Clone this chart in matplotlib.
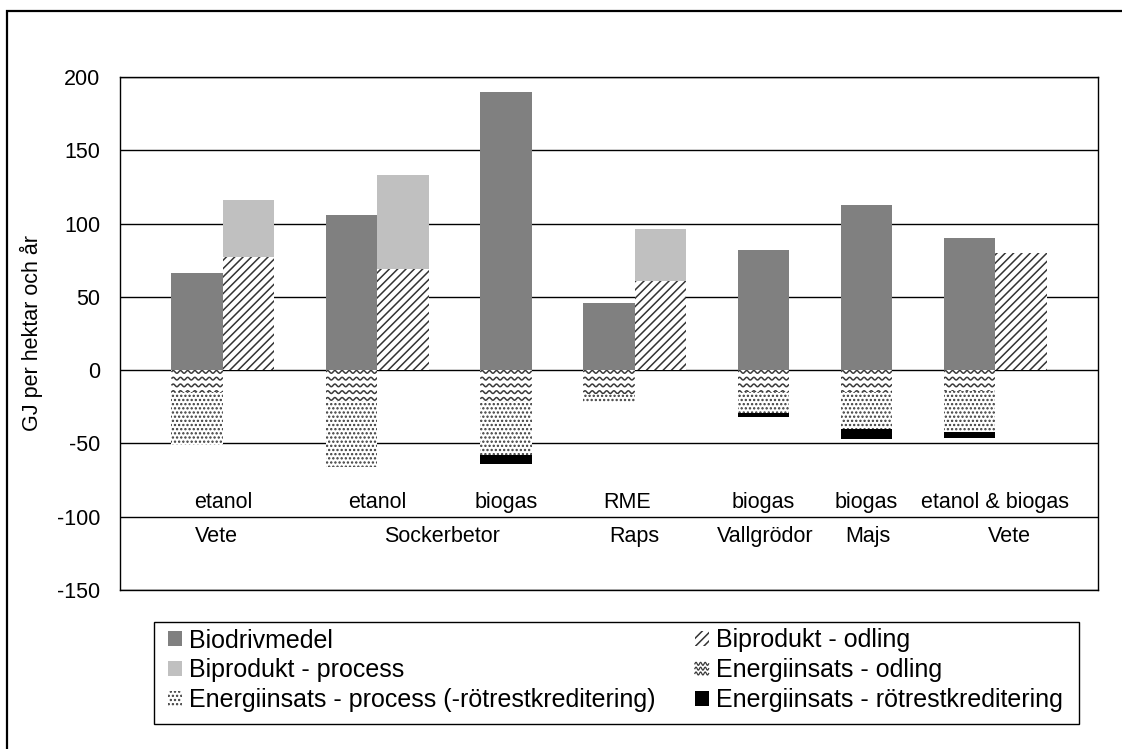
import numpy as np
import matplotlib
matplotlib.use("Agg")
import matplotlib.pyplot as plt
from matplotlib.patches import Rectangle
from matplotlib.collections import LineCollection
from matplotlib.lines import Line2D
from matplotlib.legend_handler import HandlerBase

plt.rcParams['font.family'] = ['Liberation Sans', 'DejaVu Sans']
plt.rcParams['hatch.linewidth'] = 1.1

# ---- data (GJ per hektar och år) ----
products = ["etanol", "etanol", "biogas", "RME", "biogas", "biogas", "etanol & biogas"]
crops = ["Vete", "Sockerbetor", "Raps", "Vallgrödor", "Majs", "Vete"]
biodrivmedel = [66, 106, 190, 46, 82, 113, 90]
biprodukt_odling = [77, 69, 0, 61, 0, 0, 80]
biprodukt_process = [39, 64, 0, 35, 0, 0, 0]
energi_odling = [-15, -21, -21, -16, -15, -15, -14]
energi_process = [-36, -45, -37, -6, -14, -25, -28]
energi_rotrest = [0, 0, -6, 0, -3, -7, -4]
yticks = [-150, -100, -50, 0, 50, 100, 150, 200]

labels = ["Biodrivmedel", "Biprodukt - process",
          "Energiinsats - process (-rötrestkreditering)",
          "Biprodukt - odling", "Energiinsats - odling",
          "Energiinsats - rötrestkreditering"]

# ---- layout: slot of each group's left bar; the right bar uses the next slot ----
left_slot = np.array([1, 4, 7, 9, 12, 14, 16])
n_slots = 19
product_x = [1.5, 4.5, 7.0, 9.35, 12.0, 14.0, 16.5]
crop_x = [1.37, 5.75, 9.5, 12.03, 14.03, 16.77]

W, H = 1122, 749
fig = plt.figure(figsize=(W / 100, H / 100), dpi=100)
ax = fig.add_axes([120 / W, 1 - 590 / H, (1098 - 120) / W, (590 - 77) / H])

DARK = "#808080"
LIGHT = "#c0c0c0"
FS = 15.5
LFS = 18

bio = np.array(biodrivmedel, float)
b_odl = np.array(biprodukt_odling, float)
b_proc = np.array(biprodukt_process, float)
e_odl = np.array(energi_odling, float)
e_proc = np.array(energi_process, float)
e_rot = np.array(energi_rotrest, float)

# left bars: fuel on top, energy inputs below zero
h_bio = ax.bar(left_slot, bio, width=1.0, color=DARK, linewidth=0, zorder=3)
h_eodl = ax.bar(left_slot, e_odl, width=1.0, color="white", linewidth=0, zorder=3)
h_eproc = ax.bar(left_slot, e_proc, bottom=e_odl, width=1.0, color="white",
                 edgecolor="#3a3a3a", linewidth=0, hatch="....", zorder=3)
h_rot = ax.bar(left_slot, e_rot, bottom=e_odl + e_proc, width=1.0, color="black",
               linewidth=0, zorder=3)
# right bars: by-products
h_bodl = ax.bar(left_slot + 1, b_odl, width=1.0, color="white", edgecolor="#333333",
                linewidth=0, hatch="////", zorder=3)
h_bproc = ax.bar(left_slot + 1, b_proc, bottom=b_odl, width=1.0, color=LIGHT,
                 linewidth=0, zorder=3)


def add_waves(ax, patches, period=0.14, amp=0.9, step=4.6):
    for p in patches:
        h = p.get_height()
        if h == 0:
            continue
        x0, w = p.get_x(), p.get_width()
        ytop = max(p.get_y(), p.get_y() + h)
        ybot = min(p.get_y(), p.get_y() + h)
        xs = np.linspace(x0, x0 + w, 160)
        segs = []
        yy = ytop - 1.2
        while yy > ybot - 2:
            segs.append(np.column_stack([xs, yy + amp * np.sin(2 * np.pi * (xs - x0) / period)]))
            yy -= step
        lc = LineCollection(segs, colors="#3a3a3a", linewidths=1.1, zorder=4)
        ax.add_collection(lc)
        lc.set_clip_path(p)


add_waves(ax, h_eodl.patches)

ax.set_xlim(-0.5, n_slots - 0.5)
ax.set_ylim(-150, 200)
ax.set_yticks(yticks)
ax.set_yticklabels([str(v) for v in yticks], fontsize=FS)
ax.tick_params(axis="y", length=0, pad=14.4)
ax.set_xticks([])
ax.grid(axis="y", color="black", linewidth=1.0, zorder=0)
for s in ax.spines.values():
    s.set_color("black")
    s.set_linewidth(1.0)

for x, t in zip(product_x, products):
    ax.text(x, -90, t, ha="center", va="center", fontsize=FS)
for x, t in zip(crop_x, crops):
    ax.text(x, -113.5, t, ha="center", va="center", fontsize=FS)

fig.text(31 / W, 1 - 333 / H, "GJ per hektar och år", rotation=90,
         ha="center", va="center", fontsize=FS)

# outer chart frame
fig.patches.append(Rectangle((7 / W, -0.05), 1.2, 1 - 11 / H + 0.05,
                             transform=fig.transFigure, fill=False,
                             edgecolor="black", linewidth=1.6))


class WaveHandler(HandlerBase):
    def create_artists(self, legend, orig_handle, xdescent, ydescent,
                       width, height, fontsize, trans):
        x0, y0 = -xdescent, -ydescent
        xs = np.linspace(x0, x0 + width, 40)
        arts = []
        for k in range(3):
            yy = y0 + height * (0.82 - 0.32 * k)
            arts.append(Line2D(xs, yy + height * 0.1 * np.sin(2 * np.pi * (xs - x0) / (width / 3)),
                               color="#3a3a3a", lw=0.9, transform=trans))
        return arts


# legend box frame
LX0, LX1, LY0, LY1 = 154, 1079, 622, 724
fig.patches.append(Rectangle((LX0 / W, 1 - LY1 / H), (LX1 - LX0) / W, (LY1 - LY0) / H,
                             transform=fig.transFigure, facecolor="white",
                             edgecolor="black", linewidth=1.0, zorder=5))

wave_proxy = Rectangle((0, 0), 1, 1, facecolor="white")
handles = [h_bio, h_bproc, h_eproc, h_bodl, wave_proxy, h_rot]
leg = fig.legend(handles, labels, ncol=2, loc="center",
                 bbox_to_anchor=((LX0 + 14) / W, 1 - 721 / H,
                                 (LX1 - LX0 - 30) / W, (721 - 620) / H),
                 mode="expand", borderaxespad=0, borderpad=0.0, fontsize=LFS,
                 handlelength=0.55, handleheight=0.55, handletextpad=0.3,
                 labelspacing=0.24, columnspacing=0.8, frameon=False,
                 handler_map={wave_proxy: WaveHandler()})
leg.set_zorder(6)

fig.savefig("out.png", dpi=100)
